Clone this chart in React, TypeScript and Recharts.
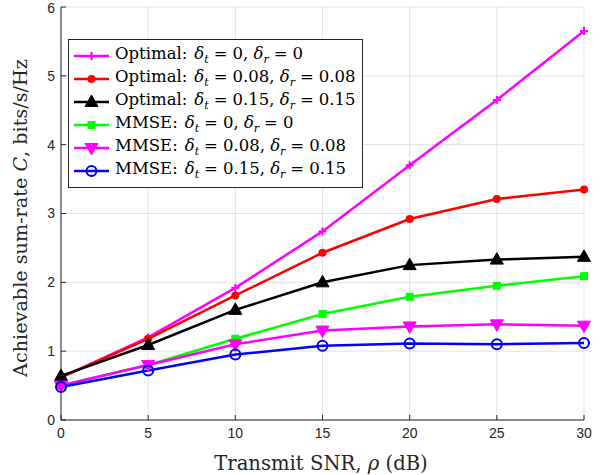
import React from 'react'
import { LineChart, Line, XAxis, YAxis, CartesianGrid } from 'recharts'

const snr = [0, 5, 10, 15, 20, 25, 30]
const optimal0 = [0.62, 1.2, 1.92, 2.74, 3.7, 4.65, 5.65]
const optimal008 = [0.62, 1.18, 1.81, 2.43, 2.92, 3.21, 3.35]
const optimal015 = [0.64, 1.09, 1.6, 2.0, 2.25, 2.33, 2.37]
const mmse0 = [0.5, 0.8, 1.18, 1.54, 1.79, 1.95, 2.09]
const mmse008 = [0.5, 0.8, 1.1, 1.3, 1.36, 1.39, 1.37]
const mmse015 = [0.48, 0.72, 0.95, 1.08, 1.11, 1.1, 1.12]
const xTicks = [0, 5, 10, 15, 20, 25, 30]
const yTicks = [0, 1, 2, 3, 4, 5, 6]

const data = snr.map((x, i) => ({
  x,
  o0: optimal0[i],
  o8: optimal008[i],
  o15: optimal015[i],
  m0: mmse0[i],
  m8: mmse008[i],
  m15: mmse015[i],
}))

type Kind = 'plus' | 'dot' | 'tri' | 'square' | 'tridown' | 'ring'

const Marker = ({ kind, color, cx, cy }: { kind: Kind; color: string; cx: number; cy: number }) => {
  switch (kind) {
    case 'plus':
      return (
        <g stroke={color} strokeWidth={2}>
          <line x1={cx - 4} y1={cy} x2={cx + 4} y2={cy} />
          <line x1={cx} y1={cy - 4} x2={cx} y2={cy + 4} />
        </g>
      )
    case 'dot':
      return <circle cx={cx} cy={cy} r={4} fill={color} />
    case 'tri':
      return <polygon points={`${cx},${cy - 7} ${cx - 6.5},${cy + 4.5} ${cx + 6.5},${cy + 4.5}`} fill={color} stroke={color} strokeWidth={1} />
    case 'square':
      return <rect x={cx - 4} y={cy - 4} width={8} height={8} fill={color} />
    case 'tridown':
      return <polygon points={`${cx - 6.5},${cy - 4.5} ${cx + 6.5},${cy - 4.5} ${cx},${cy + 7}`} fill={color} stroke={color} strokeWidth={1} />
    case 'ring':
      return <circle cx={cx} cy={cy} r={5} fill="none" stroke={color} strokeWidth={2} />
  }
}

const series: { key: string; color: string; kind: Kind; name: string; d: string }[] = [
  { key: 'o0', color: '#ff00ff', kind: 'plus', name: 'Optimal:', d: '0' },
  { key: 'o8', color: '#ff0000', kind: 'dot', name: 'Optimal:', d: '0.08' },
  { key: 'o15', color: '#000000', kind: 'tri', name: 'Optimal:', d: '0.15' },
  { key: 'm0', color: '#00ff00', kind: 'square', name: 'MMSE:', d: '0' },
  { key: 'm8', color: '#ff00ff', kind: 'tridown', name: 'MMSE:', d: '0.08' },
  { key: 'm15', color: '#0000ff', kind: 'ring', name: 'MMSE:', d: '0.15' },
]

const serif = '"DejaVu Serif", "Liberation Serif", serif'
const sans = '"Liberation Sans", Arial, sans-serif'
const axisColor = '#262626'

const Eq = () => <span style={{ padding: '0 5px' }}>=</span>

export default function App() {
  return (
    <div style={{ position: 'absolute', left: 0, top: 0, width: 608, height: 475, background: '#fff' }}>
      <LineChart width={608} height={475} data={data} margin={{ top: 7, right: 24, left: 21, bottom: 25 }}>
        <CartesianGrid stroke="#e3e3e3" strokeWidth={1} />
        <XAxis
          dataKey="x"
          type="number"
          domain={[0, 30]}
          ticks={xTicks}
          height={30}
          tickSize={-5}
          tickMargin={13}
          stroke={axisColor}
          tick={{ fill: axisColor, fontSize: 14, fontFamily: sans }}
        />
        <XAxis
          xAxisId="top"
          orientation="top"
          dataKey="x"
          type="number"
          domain={[0, 30]}
          ticks={xTicks}
          height={0}
          tickSize={-5}
          stroke={axisColor}
          tickFormatter={() => ''}
        />
        <YAxis
          type="number"
          domain={[0, 6]}
          ticks={yTicks}
          width={40}
          tickSize={-5}
          tickMargin={11}
          stroke={axisColor}
          tick={{ fill: axisColor, fontSize: 14, fontFamily: sans }}
        />
        <YAxis
          yAxisId="right"
          orientation="right"
          type="number"
          domain={[0, 6]}
          ticks={yTicks}
          width={0}
          tickSize={-5}
          stroke={axisColor}
          tickFormatter={() => ''}
        />
        {series.map((s) => (
          <Line
            key={s.key}
            dataKey={s.key}
            stroke={s.color}
            strokeWidth={2.5}
            isAnimationActive={false}
            dot={(p: any) => <Marker key={`${s.key}-${p.index}`} kind={s.kind} color={s.color} cx={p.cx} cy={p.cy} />}
            activeDot={false}
          />
        ))}
      </LineChart>

      <div
        style={{
          position: 'absolute',
          left: 20,
          top: 218,
          transform: 'translate(-50%, -50%) rotate(-90deg)',
          whiteSpace: 'nowrap',
          fontFamily: serif,
          fontSize: 19.2,
          color: axisColor,
        }}
      >
        Achievable sum-rate <i>C</i>, bits/s/Hz
      </div>

      <div
        style={{
          position: 'absolute',
          left: 321,
          top: 463,
          transform: 'translate(-50%, -50%)',
          whiteSpace: 'nowrap',
          fontFamily: serif,
          fontSize: 19.6,
          color: axisColor,
        }}
      >
        Transmit SNR, <i>ρ</i> (dB)
      </div>

      <div
        style={{
          position: 'absolute',
          left: 68,
          top: 39,
          width: 295,
          height: 149,
          border: '1px solid #262626',
          background: '#fff',
          boxSizing: 'border-box',
          paddingTop: 4,
        }}
      >
        {series.map((s) => (
          <div key={s.key} style={{ display: 'flex', alignItems: 'center', height: 23, whiteSpace: 'nowrap' }}>
            <svg width={44} height={20} style={{ marginLeft: 2, flex: 'none' }}>
              <line x1={3} y1={10} x2={38} y2={10} stroke={s.color} strokeWidth={2.5} />
              <Marker kind={s.kind} color={s.color} cx={20.5} cy={10} />
            </svg>
            <span style={{ fontFamily: serif, fontSize: 16.5, color: '#000' }}>
              {s.name}
              <span style={{ paddingLeft: 7 }}><i>δ</i></span>
              <sub style={{ fontSize: 11 }}><i>t</i></sub>
              <Eq />
              {s.d}, <i>δ</i>
              <sub style={{ fontSize: 11 }}><i>r</i></sub>
              <Eq />
              {s.d}
            </span>
          </div>
        ))}
      </div>
    </div>
  )
}
